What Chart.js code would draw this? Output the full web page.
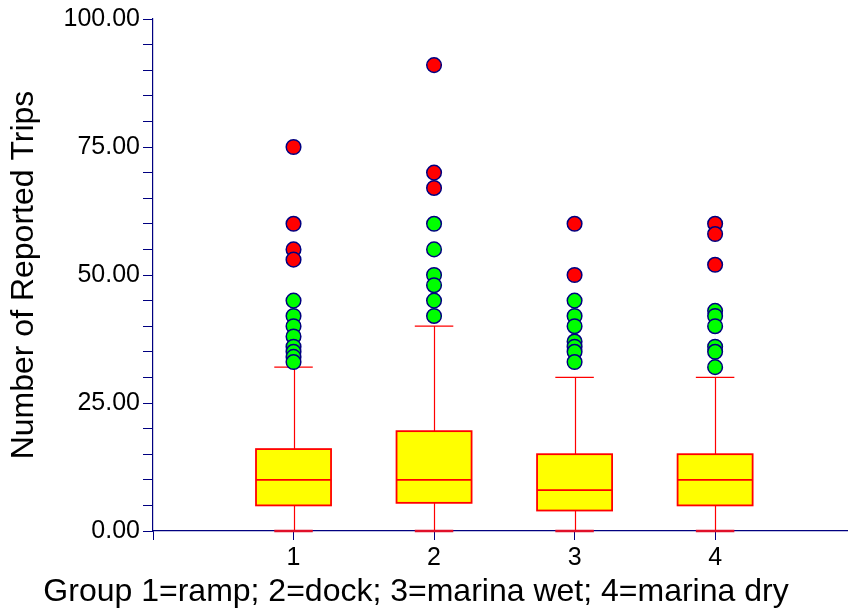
<!DOCTYPE html>
<html>
<head>
<meta charset="utf-8">
<script src="https://cdn.jsdelivr.net/npm/chart.js@4/dist/chart.umd.min.js"></script>
<style>
  html, body { margin: 0; padding: 0; background: #ffffff; }
  #wrap { width: 856px; height: 610px; }
</style>
</head>
<body>
<div id="wrap"><canvas id="c" width="856" height="610"></canvas></div>
<script>
// Groups along the x axis
const categories = [1, 2, 3, 4];
const xLabels = ['1', '2', '3', '4'];
const xTitle = 'Group 1=ramp; 2=dock; 3=marina wet; 4=marina dry';
const yTitle = 'Number of Reported Trips';

// Box statistics per group
const whiskerLow  = [0, 0, 0, 0];
const q1          = [5, 5.5, 4, 5];
const median      = [10, 10, 8, 10];
const q3          = [16, 19.5, 15, 15];
const whiskerHigh = [32, 40, 30, 30];

// Near outliers (green) and far outliers (red), per group
const nearOutliers = [
  [45, 42, 40, 38, 36, 35, 34, 33],
  [60, 55, 50, 48, 45, 42],
  [45, 42, 40, 37, 36, 35, 33],
  [43, 42, 40, 36, 35, 32]
];
const farOutliers = [
  [75, 60, 55, 53],
  [91, 70, 67],
  [60, 50],
  [60, 58, 52]
];

// Y axis tick values
const yTickStep = 5;
const yLabelStep = 25;

const NAVY = '#000080';
const FONT = "'Liberation Sans', Arial, sans-serif";

function toPoints(groups) {
  const pts = [];
  groups.forEach((vals, i) => vals.forEach(v => pts.push({ x: categories[i], y: v })));
  return pts;
}

// Box-and-whisker drawing via the chart's scales
const boxPlugin = {
  id: 'boxes',
  beforeDatasetsDraw(chart) {
    const { ctx, scales: { x, y } } = chart;
    const boxHalf = 0.267;   // half box width, in x units
    const capHalf = 0.137;   // half whisker-cap width, in x units
    ctx.save();
    categories.forEach((c, i) => {
      const cx = Math.round(x.getPixelForValue(c)) + 0.5;
      const bl = x.getPixelForValue(c - boxHalf);
      const br = x.getPixelForValue(c + boxHalf);
      const cl = x.getPixelForValue(c - capHalf);
      const cr = x.getPixelForValue(c + capHalf);
      const yLo = y.getPixelForValue(whiskerLow[i]);
      const yQ1 = y.getPixelForValue(q1[i]);
      const yMd = y.getPixelForValue(median[i]);
      const yQ3 = y.getPixelForValue(q3[i]);
      const yHi = y.getPixelForValue(whiskerHigh[i]);

      ctx.strokeStyle = '#ff0000';
      ctx.lineWidth = 1.2;
      ctx.beginPath();
      ctx.moveTo(cx, yQ3); ctx.lineTo(cx, yHi);
      ctx.moveTo(cl, yHi); ctx.lineTo(cr, yHi);
      ctx.moveTo(cx, yQ1); ctx.lineTo(cx, yLo);
      ctx.stroke();

      ctx.lineWidth = 2.5;
      ctx.strokeStyle = '#e0102a';
      ctx.beginPath();
      ctx.moveTo(cl, yLo); ctx.lineTo(cr, yLo);
      ctx.stroke();

      ctx.fillStyle = '#ffff00';
      ctx.fillRect(bl, yQ3, br - bl, yQ1 - yQ3);
      ctx.strokeStyle = '#ff0000';
      ctx.lineWidth = 1.8;
      ctx.strokeRect(bl, yQ3, br - bl, yQ1 - yQ3);
      ctx.beginPath();
      ctx.moveTo(bl, yMd); ctx.lineTo(br, yMd);
      ctx.stroke();
    });
    ctx.restore();
  },
  // x-axis caption, centred under the whole figure
  afterDraw(chart) {
    const { ctx } = chart;
    ctx.save();
    ctx.font = '32px ' + FONT;
    ctx.fillStyle = '#000000';
    ctx.textAlign = 'center';
    ctx.textBaseline = 'alphabetic';
    ctx.fillText(xTitle, 416, 601);
    ctx.restore();
  }
};

new Chart(document.getElementById('c'), {
  type: 'scatter',
  data: {
    datasets: [
      {
        label: 'far',
        data: toPoints(farOutliers),
        backgroundColor: '#ff0000',
        borderColor: NAVY,
        borderWidth: 1.5,
        pointRadius: 7.3,
        pointHoverRadius: 7.3
      },
      {
        label: 'near',
        data: toPoints(nearOutliers),
        backgroundColor: '#00ff00',
        borderColor: NAVY,
        borderWidth: 1.5,
        pointRadius: 7.3,
        pointHoverRadius: 7.3
      }
    ]
  },
  options: {
    responsive: false,
    animation: false,
    events: [],
    layout: { padding: { top: 19, right: 0, bottom: 0, left: 0 } },
    plugins: {
      legend: { display: false },
      tooltip: { enabled: false }
    },
    scales: {
      x: {
        type: 'linear',
        min: 0,
        max: 4.94,
        afterBuildTicks(scale) {
          scale.ticks = [{ value: 0 }].concat(categories.map(v => ({ value: v })));
        },
        afterFit(scale) { scale.height = 79; },
        border: { color: NAVY, width: 1.2 },
        grid: { drawOnChartArea: false, drawTicks: true, tickLength: 9, color: NAVY, tickColor: NAVY, lineWidth: 1 },
        ticks: {
          autoSkip: false,
          maxRotation: 0,
          padding: 3,
          color: '#000000',
          font: { family: FONT, size: 25 },
          callback(value) {
            const i = categories.indexOf(value);
            return i >= 0 ? xLabels[i] : '';
          }
        },
        title: { display: false }
      },
      y: {
        type: 'linear',
        min: 0,
        max: 100,
        afterFit(scale) { scale.width = 153; },
        border: { color: NAVY, width: 1.2 },
        grid: { drawOnChartArea: false, drawTicks: true, tickLength: 10, color: NAVY, tickColor: NAVY, lineWidth: 1 },
        ticks: {
          stepSize: yTickStep,
          autoSkip: false,
          padding: 3,
          color: '#000000',
          font: { family: FONT, size: 25 },
          callback(value) {
            return value % yLabelStep === 0 ? value.toFixed(2) : '';
          }
        },
        title: {
          display: true,
          text: yTitle,
          color: '#000000',
          font: { family: FONT, size: 32 },
          padding: { top: 5, bottom: 0 }
        }
      }
    }
  },
  plugins: [boxPlugin]
});
</script>
</body>
</html>
